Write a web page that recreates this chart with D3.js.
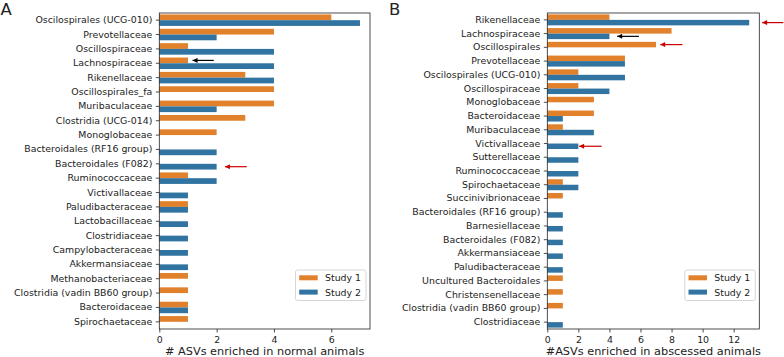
<!DOCTYPE html>
<html>
<head>
<meta charset="utf-8">
<script src="https://cdn.jsdelivr.net/npm/d3@7"></script>
<style>
  body { margin: 0; background: #fff; }
  svg text { font-family: "DejaVu Sans", sans-serif; fill: #222; }
</style>
</head>
<body>
<div class="data_figure"></div>
<script>
// ---- data: panel A (normal animals)
const catsA = ["Oscilospirales (UCG-010)", "Prevotellaceae", "Oscillospiraceae", "Lachnospiraceae",
    "Rikenellaceae", "Oscillospirales_fa", "Muribaculaceae", "Clostridia (UCG-014)", "Monoglobaceae",
    "Bacteroidales (RF16 group)", "Bacteroidales (F082)", "Ruminococcaceae", "Victivallaceae",
    "Paludibacteraceae", "Lactobacillaceae", "Clostridiaceae", "Campylobacteraceae", "Akkermansiaceae",
    "Methanobacteriaceae", "Clostridia (vadin BB60 group)", "Bacteroidaceae", "Spirochaetaceae"];
const study1A = [6, 4, 1, 1, 3, 4, 4, 3, 2, 0, 0, 1, 0, 1, 0, 0, 0, 0, 1, 1, 1, 1];
const study2A = [7, 2, 4, 4, 4, 0, 2, 0, 0, 2, 2, 2, 1, 1, 1, 1, 1, 1, 0, 0, 1, 0];
const ticksA = [0, 2, 4, 6];

// ---- data: panel B (abscessed animals)
const catsB = ["Rikenellaceae", "Lachnospiraceae", "Oscillospirales", "Prevotellaceae",
    "Oscilospirales (UCG-010)", "Oscillospiraceae", "Monoglobaceae", "Bacteroidaceae", "Muribaculaceae",
    "Victivallaceae", "Sutterellaceae", "Ruminococcaceae", "Spirochaetaceae", "Succinivibrionaceae",
    "Bacteroidales (RF16 group)", "Barnesiellaceae", "Bacteroidales (F082)", "Akkermansiaceae",
    "Paludibacteraceae", "Uncultured Bacteroidales", "Christensenellaceae",
    "Clostridia (vadin BB60 group)", "Clostridiaceae"];
const study1B = [4, 8, 7, 5, 2, 2, 3, 3, 1, 0, 0, 0, 1, 1, 0, 0, 0, 0, 0, 1, 1, 1, 0];
const study2B = [13, 4, 0, 5, 5, 4, 0, 1, 3, 2, 2, 2, 2, 0, 1, 1, 1, 1, 1, 0, 0, 0, 1];
const ticksB = [0, 2, 4, 6, 8, 10, 12];

// arrows: [category, study (0/1), x tail, x tip, colour]
const arrowsA = [
    ["Lachnospiraceae", 0, 1.9, 1.16, "black"],
    ["Bacteroidales (F082)", 1, 3.05, 2.29, "#cc0000"],
];
const arrowsB = [
    ["Rikenellaceae", 1, 15.2, 13.83, "#cc0000"],
    ["Lachnospiraceae", 1, 5.9, 4.5, "black"],
    ["Oscillospirales", 0, 8.7, 7.27, "#cc0000"],
    ["Victivallaceae", 1, 3.5, 2.05, "#cc0000"],
];

const studies = ["Study 1", "Study 2"];
const colors = ["#e1812c", "#3274a1"];

const W = 784, H = 357;
const fontSize = 9.4;
const plotTop = 13, plotBottom = 329;

const svg = d3.select(".data_figure")
    .append("svg")
    .attr("width", W)
    .attr("height", H);

// arrow heads
["black", "#cc0000"].forEach((c, i) => {
    svg.append("defs").append("marker")
        .attr("id", "head" + i)
        .attr("viewBox", "0 0 10 10")
        .attr("refX", 10).attr("refY", 5)
        .attr("markerWidth", 7).attr("markerHeight", 5)
        .attr("markerUnits", "userSpaceOnUse")
        .attr("orient", "auto")
        .append("path")
        .attr("d", "M0,0 L10,5 L0,10 z")
        .attr("fill", c);
});

function drawPanel(opt) {
    const g = svg.append("g");
    const x = d3.scaleLinear().domain([0, opt.xmax]).range([opt.left, opt.right]);
    const y = d3.scaleBand().domain(opt.cats).range([plotTop, plotBottom]);
    const bw = y.bandwidth();

    // bars
    [opt.s1, opt.s2].forEach((vals, k) => {
        g.selectAll(".bar" + k)
            .data(opt.cats)
            .enter()
            .append("rect")
            .attr("x", x(0))
            .attr("y", (d) => y(d) + bw * (0.1 + 0.4 * k))
            .attr("width", (d, i) => x(vals[i]) - x(0))
            .attr("height", bw * 0.4)
            .attr("fill", colors[k]);
    });

    // y axis
    const yAxis = g.append("g")
        .attr("transform", "translate(" + opt.left + ",0)")
        .call(d3.axisLeft(y).tickSize(3.5).tickPadding(3.5));
    yAxis.select(".domain").remove();
    yAxis.selectAll("text").style("font-size", fontSize + "px").attr("fill", "#222");
    yAxis.selectAll("line").attr("stroke", "#222").attr("stroke-width", 0.8);

    // x axis
    const xAxis = g.append("g")
        .attr("transform", "translate(0," + plotBottom + ")")
        .call(d3.axisBottom(x).tickValues(opt.ticks).tickFormat(d3.format("d")).tickSize(3.5).tickPadding(3.5));
    xAxis.select(".domain").remove();
    xAxis.selectAll("text").style("font-size", fontSize + "px").attr("fill", "#222");
    xAxis.selectAll("line").attr("stroke", "#222").attr("stroke-width", 0.8);

    // frame
    g.append("rect")
        .attr("x", opt.left).attr("y", plotTop)
        .attr("width", opt.right - opt.left).attr("height", plotBottom - plotTop)
        .attr("fill", "none").attr("stroke", "#222").attr("stroke-width", 0.8);

    // x label
    g.append("text")
        .attr("x", (opt.left + opt.right) / 2)
        .attr("y", 355)
        .attr("text-anchor", "middle")
        .style("font-size", "11.3px")
        .text(opt.xlabel);

    // panel letter
    svg.append("text")
        .attr("x", opt.letterX).attr("y", 15)
        .style("font-size", "16.5px")
        .text(opt.letter);

    // arrows
    opt.arrows.forEach((a) => {
        const yy = y(a[0]) + bw * (0.3 + 0.4 * a[1]);
        g.append("line")
            .attr("x1", x(a[2])).attr("x2", x(a[3]))
            .attr("y1", yy).attr("y2", yy)
            .attr("stroke", a[4]).attr("stroke-width", 1.2)
            .attr("marker-end", "url(#head" + (a[4] === "black" ? 0 : 1) + ")");
    });

    // legend
    const lg = g.append("g")
        .attr("transform", "translate(" + (opt.right - 74.5) + ",270)");
    lg.append("rect")
        .attr("width", 70.5).attr("height", 30.5)
        .attr("rx", 2)
        .attr("fill", "white").attr("fill-opacity", 0.8)
        .attr("stroke", "#ccc").attr("stroke-width", 0.8);
    studies.forEach((s, k) => {
        lg.append("rect")
            .attr("x", 3.7).attr("y", 5.3 + k * 14.3)
            .attr("width", 18.5).attr("height", 5)
            .attr("fill", colors[k]);
        lg.append("text")
            .attr("x", 29.5).attr("y", 8 + k * 14.3)
            .attr("dy", "0.35em")
            .style("font-size", fontSize + "px")
            .text(s);
    });
}

drawPanel({
    cats: catsA, s1: study1A, s2: study2A, ticks: ticksA,
    xmax: 7.35, left: 159.3, right: 370,
    xlabel: "# ASVs enriched in normal animals",
    letter: "A", letterX: 0.5, arrows: arrowsA
});
drawPanel({
    cats: catsB, s1: study1B, s2: study2B, ticks: ticksB,
    xmax: 13.65, left: 547.3, right: 759.3,
    xlabel: "#ASVs enriched in abscessed animals",
    letter: "B", letterX: 389, arrows: arrowsB
});
</script>
</body>
</html>
